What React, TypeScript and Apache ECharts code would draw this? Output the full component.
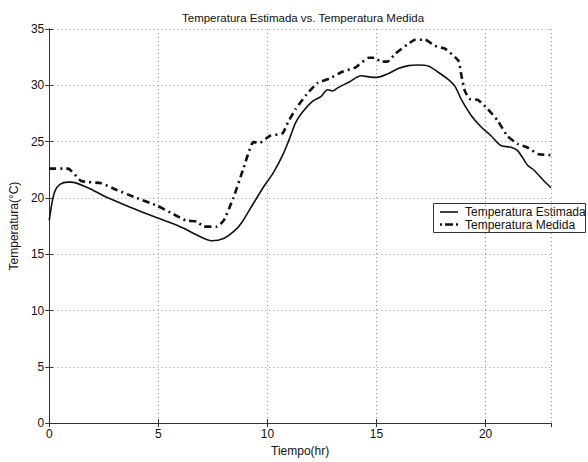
import React, { useEffect, useRef } from "react";
import * as echarts from "echarts";

const titleText = "Temperatura Estimada vs. Temperatura Medida";
const xName = "Tiempo(hr)";
const yName = "Temperatura(°C)";
const seriesNames = ["Temperatura Estimada", "Temperatura Medida"];

const estTimes = [0, 0.13, 0.26, 0.49, 0.86, 1.0, 1.77, 2.53, 3.3, 4.05, 4.8, 5.56, 6.17, 6.77, 7.45, 7.99, 8.5, 8.82, 9.2, 9.8, 10.26, 10.7, 11.0, 11.3, 11.6, 12.08, 12.45, 12.76, 13.0, 13.2, 13.75, 14.3, 14.65, 15.0, 15.56, 16.0, 16.47, 16.9, 17.4, 17.8, 18.3, 18.6, 18.9, 19.35, 19.8, 20.26, 20.7, 21.17, 21.47, 21.93, 22.2, 22.68, 23];
const estValues = [18.0, 19.6, 20.6, 21.2, 21.4, 21.4, 20.9, 20.15, 19.5, 18.9, 18.35, 17.8, 17.3, 16.7, 16.2, 16.4, 17.1, 17.8, 19.0, 20.9, 22.2, 23.8, 25.2, 26.7, 27.6, 28.6, 29.0, 29.6, 29.5, 29.75, 30.3, 30.85, 30.75, 30.7, 31.05, 31.5, 31.75, 31.8, 31.7, 31.2, 30.5, 29.9, 28.7, 27.3, 26.3, 25.5, 24.65, 24.5, 24.2, 22.9, 22.5, 21.5, 20.9];

const medTimes = [0, 0.86, 1.47, 2.38, 3.1, 4.0, 4.95, 5.7, 6.25, 6.77, 7.08, 7.68, 8.0, 8.44, 8.9, 9.35, 9.65, 10.1, 10.7, 10.94, 11.3, 11.8, 12.3, 12.84, 13.44, 14.05, 14.65, 14.95, 15.18, 15.5, 15.86, 16.47, 16.77, 17.23, 17.68, 18.14, 18.75, 18.9, 19.05, 19.27, 19.65, 20.1, 20.56, 21.0, 21.47, 21.9, 22.4, 23];
const medValues = [22.6, 22.6, 21.5, 21.3, 20.7, 20.0, 19.3, 18.55, 18.0, 17.9, 17.45, 17.45, 18.0, 20.0, 22.6, 24.95, 24.9, 25.5, 25.75, 26.7, 27.9, 29.2, 30.2, 30.6, 31.2, 31.6, 32.45, 32.45, 32.1, 32.1, 32.8, 33.7, 34.05, 34.05, 33.5, 33.25, 32.2, 30.8, 29.5, 28.8, 28.7, 27.9, 26.85, 25.5, 24.8, 24.5, 23.9, 23.8];

const xMin = 0, xMax = 23, xStep = 5;
const yMin = 0, yMax = 35, yStep = 5;

const FONT = "'Liberation Sans', Arial, sans-serif";
const MED_DASH = [7, 4, 2, 4];

export default function App() {
  const ref = useRef<HTMLDivElement>(null);
  useEffect(() => {
    document.body.style.margin = "0";
    const chart = echarts.init(ref.current!, null, { renderer: "svg" });
    const est = estTimes.map((t, i) => [t, estValues[i]]);
    const med = medTimes.map((t, i) => [t, medValues[i]]);
    const frameAxis = {
      axisLine: { show: true, lineStyle: { color: "#333", width: 1 } },
      axisTick: { show: true, inside: true, length: 4, lineStyle: { color: "#333" } },
    };
    const lgX = 433, lgY = 203, lgW = 152, lgH = 29;
    chart.setOption({
      animation: false,
      backgroundColor: "#ffffff",
      textStyle: { fontFamily: FONT },
      title: {
        text: titleText,
        left: 298,
        top: 7,
        textAlign: "center",
        textStyle: { fontSize: 11.5, fontWeight: "normal", color: "#111", fontFamily: FONT },
      },
      grid: { left: 44, right: 37, top: 29, bottom: 33, containLabel: false },
      graphic: [
        {
          type: "group",
          z: 100,
          children: [
            {
              type: "rect",
              shape: { x: lgX + 0.5, y: lgY + 0.5, width: lgW, height: lgH },
              style: { fill: "#fff", stroke: "#333", lineWidth: 1 },
            },
            {
              type: "line",
              shape: { x1: lgX + 7, y1: lgY + 9, x2: lgX + 25, y2: lgY + 9 },
              style: { stroke: "#111", lineWidth: 1.6 },
            },
            {
              type: "line",
              shape: { x1: lgX + 7, y1: lgY + 21.5, x2: lgX + 25, y2: lgY + 21.5 },
              style: { stroke: "#111", lineWidth: 2.6, lineDash: [2, 3, 8, 3, 2, 10] },
            },
            {
              type: "text",
              x: lgX + 32,
              y: lgY + 9,
              style: { text: seriesNames[0], fontSize: 12, fill: "#111", fontFamily: FONT, verticalAlign: "middle", align: "left" },
            },
            {
              type: "text",
              x: lgX + 32,
              y: lgY + 21.5,
              style: { text: seriesNames[1], fontSize: 12, fill: "#111", fontFamily: FONT, verticalAlign: "middle", align: "left" },
            },
          ],
        },
      ],
      xAxis: [
        {
          type: "value",
          min: xMin,
          max: xMax,
          interval: xStep,
          name: xName,
          nameLocation: "middle",
          nameGap: 19,
          nameTextStyle: { fontSize: 12, color: "#111", fontFamily: FONT },
          ...frameAxis,
          axisLabel: { fontSize: 12, color: "#111", margin: 5, fontFamily: FONT, showMaxLabel: false },
          splitLine: { show: true, lineStyle: { type: [1, 3], color: "#999", width: 1 } },
        },
        {
          type: "value",
          position: "top",
          min: xMin,
          max: xMax,
          interval: xStep,
          ...frameAxis,
          axisLabel: { show: false },
          splitLine: { show: false },
        },
      ],
      yAxis: [
        {
          type: "value",
          min: yMin,
          max: yMax,
          interval: yStep,
          name: yName,
          nameLocation: "middle",
          nameGap: 23,
          nameTextStyle: { fontSize: 12, color: "#111", fontFamily: FONT },
          ...frameAxis,
          axisLabel: { fontSize: 12, color: "#111", margin: 5, fontFamily: FONT },
          splitLine: { show: true, lineStyle: { type: [1, 3], color: "#999", width: 1 } },
        },
        {
          type: "value",
          position: "right",
          min: yMin,
          max: yMax,
          interval: yStep,
          ...frameAxis,
          axisLabel: { show: false },
          splitLine: { show: false },
        },
      ],
      series: [
        {
          name: seriesNames[0],
          type: "line",
          data: est,
          smooth: 0.3,
          showSymbol: false,
          symbol: "none",
          color: "#111",
          lineStyle: { color: "#111", width: 1.6, type: "solid" },
        },
        {
          name: seriesNames[1],
          type: "line",
          data: med,
          smooth: 0.15,
          showSymbol: false,
          symbol: "none",
          color: "#111",
          lineStyle: { color: "#111", width: 2.6, type: MED_DASH },
        },
      ],
    });
    return () => chart.dispose();
  }, []);
  return <div ref={ref} style={{ width: 588, height: 462 }} />;
}
